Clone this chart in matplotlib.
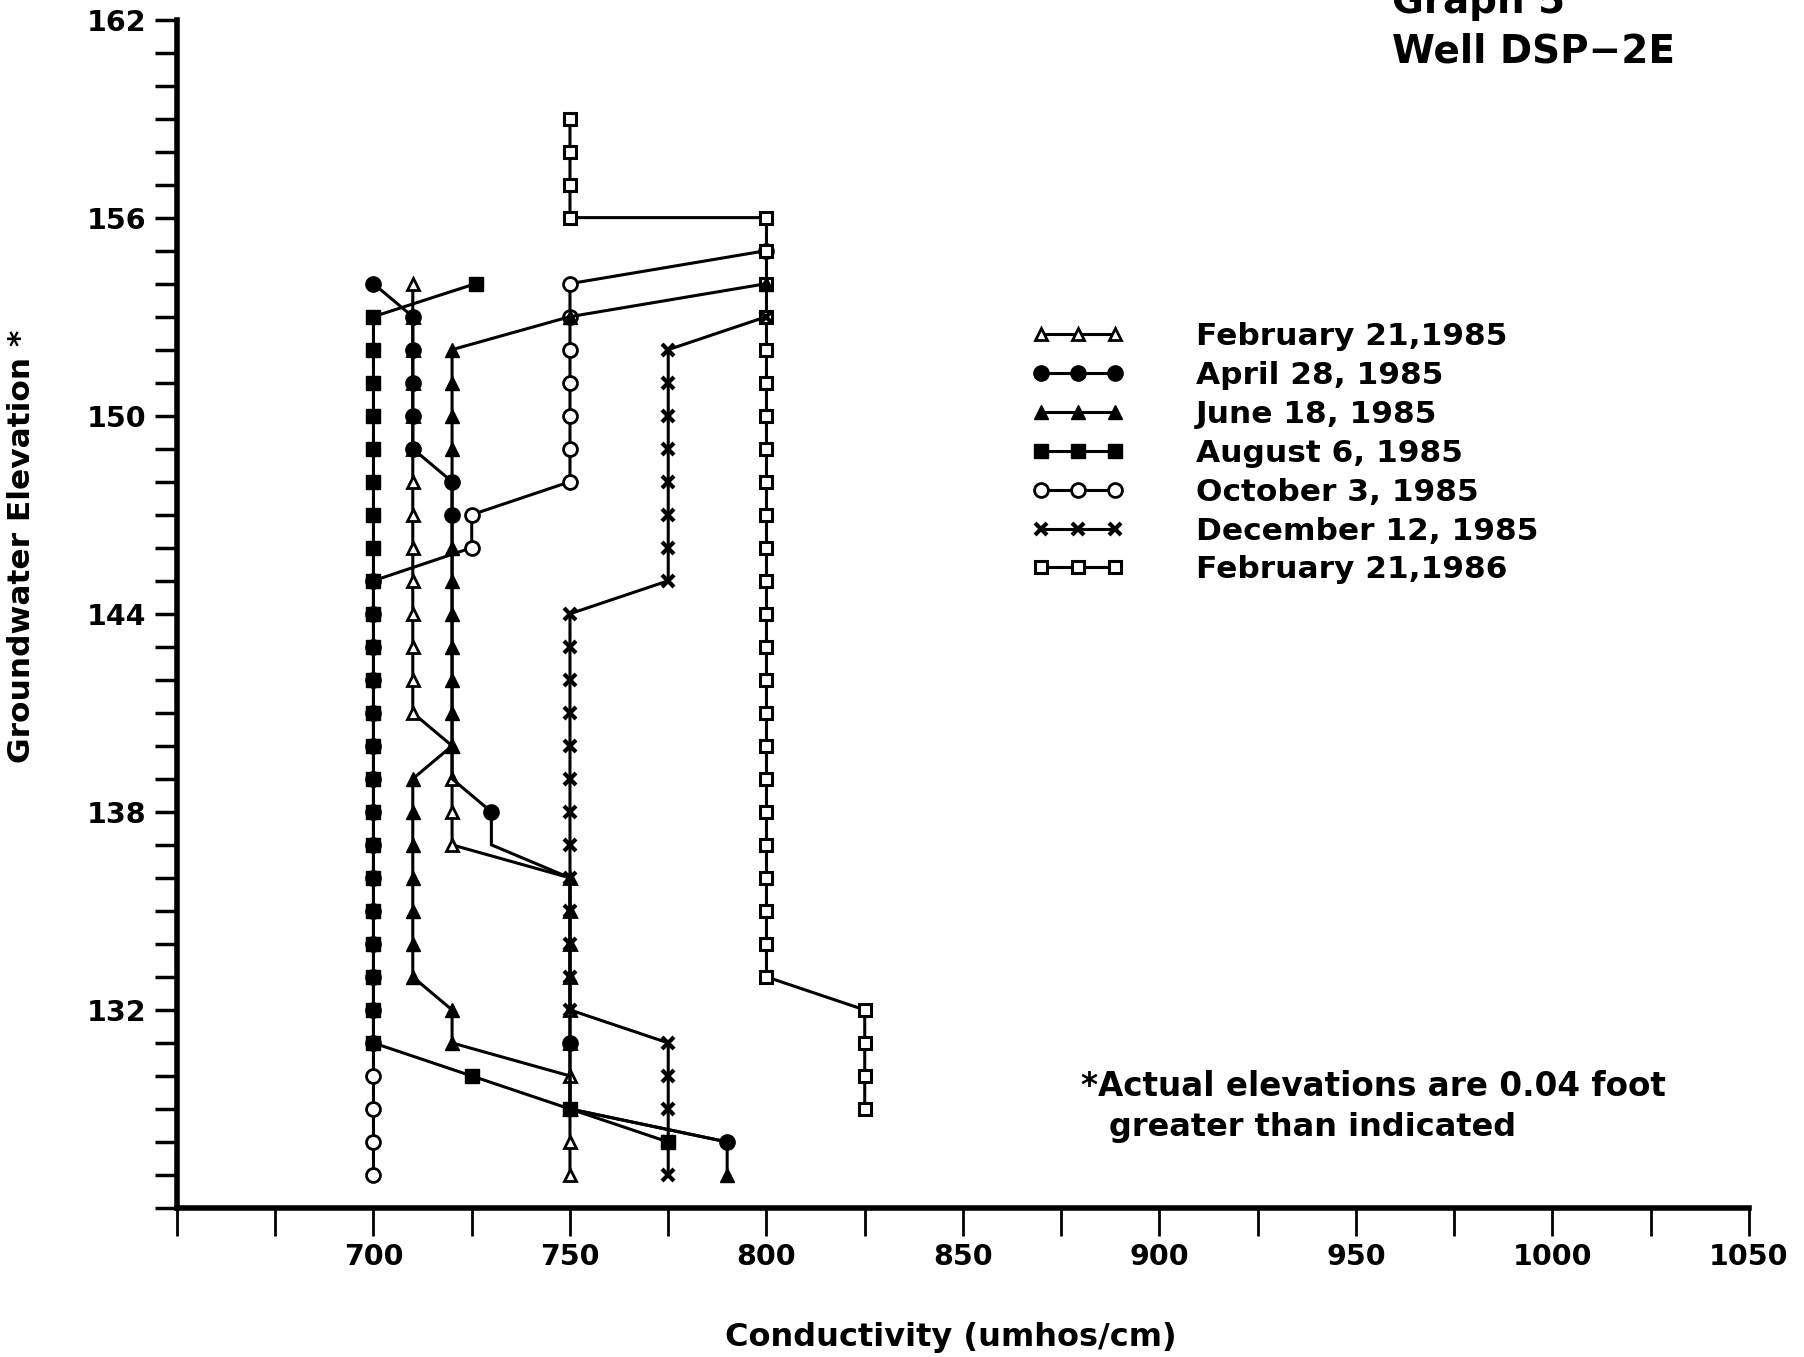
import numpy as np
import matplotlib.pyplot as plt

plt.rcParams['font.family'] = ['DejaVu Sans']
plt.rcParams['font.weight'] = 'bold'

# --- data (conductivity in umhos/cm, elevation in ft) ---
series_labels = ['February 21,1985', 'April 28, 1985', 'June 18, 1985',
                 'August 6, 1985', 'October 3, 1985', 'December 12, 1985',
                 'February 21,1986']

feb85_cond = [710, 710, 710, 710, 710, 710, 710, 710, 710, 710, 710, 710, 710, 710,
              720, 720, 720, 720,
              750, 750, 750, 750, 750, 750, 750, 750, 750, 750]
feb85_elev = [154, 153, 152, 151, 150, 149, 148, 147, 146, 145, 144, 143, 142, 141,
              140, 139, 138, 137,
              136, 135, 134, 133, 132, 131, 130, 129, 128, 127]

apr85_cond = [700, 710, 710, 710, 710, 710,
              720, 720, 720, 720, 720, 720, 720, 720, 720, 720,
              730, 730,
              750, 750, 750, 750, 750, 750, 750, 750, 790]
apr85_elev = [154, 153, 152, 151, 150, 149,
              148, 147, 146, 145, 144, 143, 142, 141, 140, 139,
              138, 137,
              136, 135, 134, 133, 132, 131, 130, 129, 128]

jun85_cond = [800, 750,
              720, 720, 720, 720, 720, 720, 720, 720, 720, 720, 720, 720, 720,
              710, 710, 710, 710, 710, 710, 710,
              720, 720, 750, 750, 790, 790]
jun85_elev = [154, 153,
              152, 151, 150, 149, 148, 147, 146, 145, 144, 143, 142, 141, 140,
              139, 138, 137, 136, 135, 134, 133,
              132, 131, 130, 129, 128, 127]

aug85_cond = [726,
              700, 700, 700, 700, 700, 700, 700, 700, 700, 700, 700, 700,
              700, 700, 700, 700, 700, 700, 700, 700, 700, 700, 700,
              725, 750, 775]
aug85_elev = [154,
              153, 152, 151, 150, 149, 148, 147, 146, 145, 144, 143, 142,
              141, 140, 139, 138, 137, 136, 135, 134, 133, 132, 131,
              130, 129, 128]

oct85_cond = [800, 750, 750, 750, 750, 750, 750, 750, 725, 725,
              700, 700, 700, 700, 700, 700, 700, 700, 700, 700,
              700, 700, 700, 700, 700, 700, 700, 700, 700]
oct85_elev = [155, 154, 153, 152, 151, 150, 149, 148, 147, 146,
              145, 144, 143, 142, 141, 140, 139, 138, 137, 136,
              135, 134, 133, 132, 131, 130, 129, 128, 127]

dec85_cond = [800, 775, 775, 775, 775, 775, 775, 775, 775,
              750, 750, 750, 750, 750, 750, 750, 750, 750, 750, 750, 750, 750,
              775, 775, 775, 775, 775]
dec85_elev = [153, 152, 151, 150, 149, 148, 147, 146, 145,
              144, 143, 142, 141, 140, 139, 138, 137, 136, 135, 134, 133, 132,
              131, 130, 129, 128, 127]

feb86_cond = [750, 750, 750, 750,
              800, 800, 800, 800, 800, 800, 800, 800, 800, 800, 800, 800,
              800, 800, 800, 800, 800, 800, 800, 800, 800, 800, 800, 800,
              825, 825, 825, 825]
feb86_elev = [159, 158, 157, 156,
              156, 155, 154, 153, 152, 151, 150, 149, 148, 147, 146, 145,
              144, 143, 142, 141, 140, 139, 138, 137, 136, 135, 134, 133,
              132, 131, 130, 129]

x_ticks = [650, 675, 700, 725, 750, 775, 800, 825, 850, 875, 900, 925, 950,
           975, 1000, 1025, 1050]
x_tick_labels = ['', '', '700', '', '750', '', '800', '', '850', '', '900', '',
                 '950', '', '1000', '', '1050']
y_label_values = [132, 138, 144, 150, 156, 162]

# points where a marker is covered by another series' marker on the original plot
apr_shown = [(700, 154), (710, 153), (710, 152), (710, 151), (710, 150), (710, 149),
             (720, 148), (720, 147), (730, 138), (750, 131), (790, 128)]
jun_hidden = [(720, 148), (720, 147), (750, 130), (750, 129), (790, 128)]

# --- figure ---
fig = plt.figure(figsize=(18.04, 13.57), dpi=100)
ax = fig.add_axes([0.0981, 0.1098, 0.8714, 0.8758])

conds = [feb85_cond, apr85_cond, jun85_cond, aug85_cond, oct85_cond, dec85_cond, feb86_cond]
elevs = [feb85_elev, apr85_elev, jun85_elev, aug85_elev, oct85_elev, dec85_elev, feb86_elev]
styles = [
    dict(marker='^', ms=9, mfc='white', mew=2, zorder=2),
    dict(marker='o', ms=11, mfc='black', zorder=3),
    dict(marker='^', ms=10, mfc='black', zorder=4),
    dict(marker='s', ms=9.5, mfc='black', zorder=3),
    dict(marker='o', ms=10, mfc='white', mew=2, zorder=2),
    dict(marker='x', ms=9, mew=3, zorder=3),
    dict(marker='s', ms=9, mfc='white', mew=2.2, zorder=2),
]

apr_every = [(c, e) in apr_shown for c, e in zip(apr85_cond, apr85_elev)]
jun_every = [(c, e) not in jun_hidden for c, e in zip(jun85_cond, jun85_elev)]
markevery = [None, apr_every, jun_every, None, None, None, None]

for c, e, lab, st, me in zip(conds, elevs, series_labels, styles, markevery):
    ax.plot(c, e, color='black', lw=2.2, mec='black', label=lab, markevery=me, **st)

ax.set_xlim(650, 1050)
ax.set_ylim(126, 162)
ax.set_xticks(x_ticks)
ax.set_xticklabels(x_tick_labels)
ax.set_yticks(np.arange(126, 163, 1))
ax.set_yticklabels([str(v) if v in y_label_values else '' for v in range(126, 163)])

for side in ['top', 'right']:
    ax.spines[side].set_visible(False)
for side in ['left', 'bottom']:
    ax.spines[side].set_linewidth(4)
ax.tick_params(axis='x', direction='out', length=20, width=2, labelsize=20.5, pad=5)
ax.tick_params(axis='y', direction='out', length=16, width=2.5, labelsize=20.5, pad=6)

# legend: handles from ~x=1032px, first row centred near y=335px
leg = ax.legend(loc='upper left', bbox_to_anchor=(0.572, 0.7625), bbox_transform=fig.transFigure,
                frameon=False, numpoints=3, fontsize=22.5, handlelength=2.95,
                handletextpad=2.3, labelspacing=0.315, borderpad=0, borderaxespad=0)

fig.text(0.7717, 0.9904, 'Graph 5', fontsize=28, va='baseline', ha='left')
fig.text(0.7717, 0.9536, 'Well DSP\u22122E', fontsize=28, va='baseline', ha='left')

fig.text(0.599, 0.199, '*Actual elevations are 0.04 foot', fontsize=23.5, va='center', ha='left')
fig.text(0.615, 0.169, 'greater than indicated', fontsize=23, va='center', ha='left')

fig.text(0.527, 0.0147, 'Conductivity (umhos/cm)', fontsize=23, va='center', ha='center')
fig.text(0.0166, 0.5976, 'Groundwater Elevation *', fontsize=22.5, rotation=90,
         rotation_mode='anchor', va='baseline', ha='center')

fig.savefig('out.png', dpi=100)
